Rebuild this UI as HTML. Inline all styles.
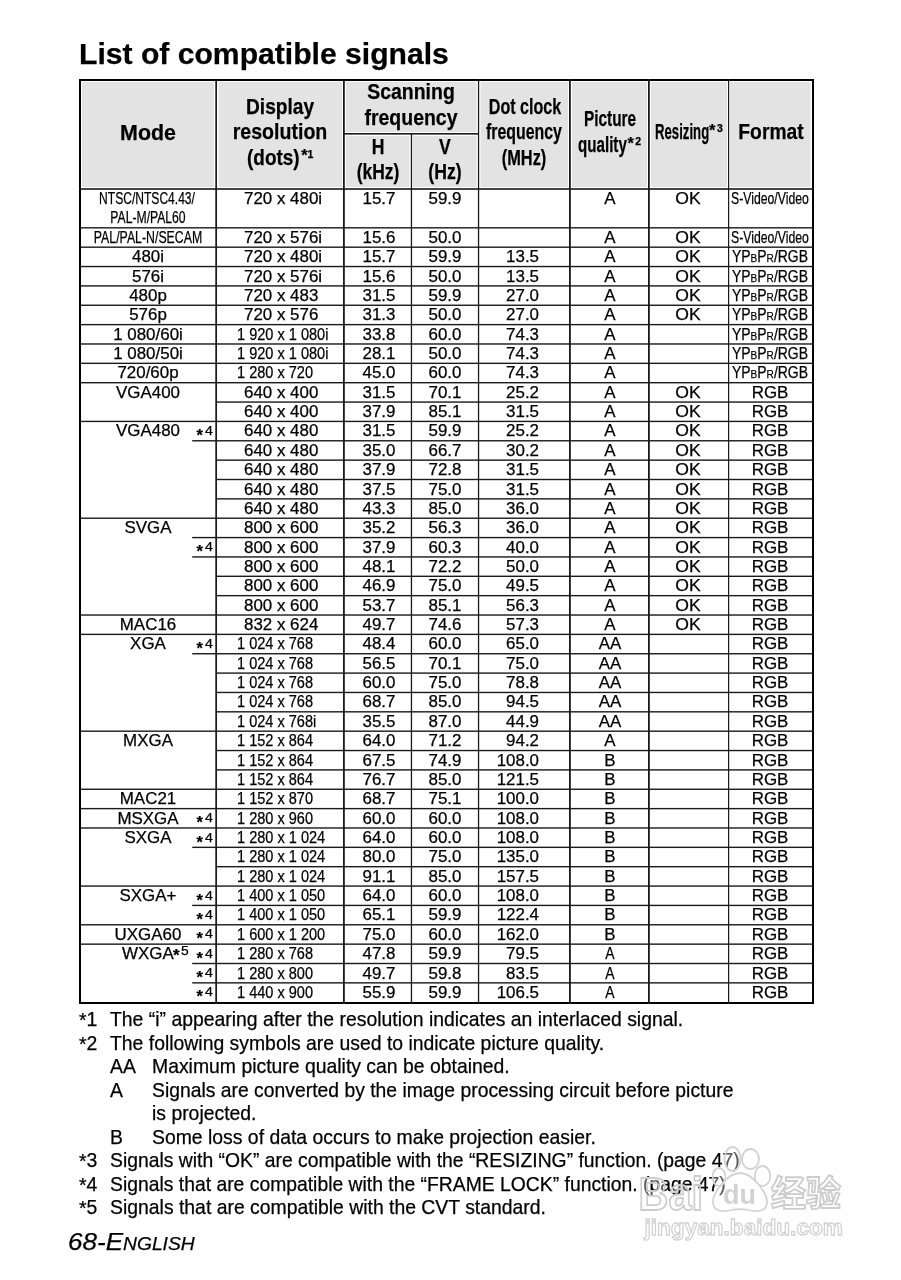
<!DOCTYPE html>
<html><head><meta charset="utf-8"><title>List of compatible signals</title><style>
*{margin:0;padding:0;box-sizing:border-box}
html,body{width:901px;height:1280px;background:#fff;overflow:hidden}
body{position:relative;font-family:"Liberation Sans",Arial,Helvetica,sans-serif;color:#000}
.grid{position:absolute;left:0;top:0}
.t{position:absolute;line-height:0;white-space:nowrap;-webkit-text-stroke:0.25px #000}
.st{display:inline-block;transform:translateY(0.39em);font-weight:700}
.sc{font-size:0.72em}
.fs{display:inline-block;transform:translateY(0.05em)}
.pc{font-size:0.74em}
.wmsvg{position:absolute;left:0;top:0}
</style></head><body>
<svg class="grid" width="901" height="1280" viewBox="0 0 901 1280"><rect x="82.00" y="82.00" width="132.00" height="105.00" fill="#e3e3e3"/><rect x="218.50" y="82.00" width="123.50" height="105.00" fill="#e3e3e3"/><rect x="346.00" y="82.00" width="130.50" height="50.00" fill="#e3e3e3"/><rect x="346.00" y="136.00" width="63.50" height="51.00" fill="#e3e3e3"/><rect x="413.00" y="136.00" width="63.50" height="51.00" fill="#e3e3e3"/><rect x="480.50" y="82.00" width="87.50" height="105.00" fill="#e3e3e3"/><rect x="572.00" y="82.00" width="75.00" height="105.00" fill="#e3e3e3"/><rect x="651.00" y="82.00" width="76.00" height="105.00" fill="#e3e3e3"/><rect x="730.00" y="82.00" width="80.50" height="105.00" fill="#e3e3e3"/><rect x="79.00" y="79.00" width="735.00" height="2.00" fill="#000"/><rect x="79.00" y="1002.00" width="735.00" height="2.00" fill="#000"/><rect x="79.00" y="79.00" width="2.00" height="925.00" fill="#000"/><rect x="812.00" y="79.00" width="2.00" height="925.00" fill="#000"/><rect x="215.30" y="79.00" width="1.70" height="925.00" fill="#1a1a1a"/><rect x="343.00" y="79.00" width="1.80" height="925.00" fill="#1a1a1a"/><rect x="410.80" y="133.00" width="1.30" height="871.00" fill="#1a1a1a"/><rect x="477.90" y="79.00" width="1.30" height="925.00" fill="#1a1a1a"/><rect x="569.00" y="79.00" width="1.80" height="925.00" fill="#1a1a1a"/><rect x="648.00" y="79.00" width="1.80" height="925.00" fill="#1a1a1a"/><rect x="728.00" y="79.00" width="1.20" height="925.00" fill="#1a1a1a"/><rect x="343.00" y="133.00" width="135.00" height="1.60" fill="#1a1a1a"/><rect x="79.00" y="188.20" width="735.00" height="1.60" fill="#1a1a1a"/><rect x="81.00" y="227.12" width="733.00" height="1.40" fill="#1a1a1a"/><rect x="81.00" y="246.48" width="733.00" height="1.40" fill="#1a1a1a"/><rect x="81.00" y="265.84" width="733.00" height="1.40" fill="#1a1a1a"/><rect x="81.00" y="285.20" width="733.00" height="1.40" fill="#1a1a1a"/><rect x="81.00" y="304.56" width="733.00" height="1.40" fill="#1a1a1a"/><rect x="81.00" y="323.92" width="733.00" height="1.40" fill="#1a1a1a"/><rect x="81.00" y="343.28" width="733.00" height="1.40" fill="#1a1a1a"/><rect x="81.00" y="362.64" width="733.00" height="1.40" fill="#1a1a1a"/><rect x="81.00" y="382.00" width="733.00" height="1.40" fill="#1a1a1a"/><rect x="216.00" y="401.36" width="596.00" height="1.40" fill="#1a1a1a"/><rect x="81.00" y="420.72" width="733.00" height="1.40" fill="#1a1a1a"/><rect x="216.00" y="440.08" width="596.00" height="1.40" fill="#1a1a1a"/><rect x="192.20" y="440.08" width="23.80" height="1.40" fill="#1a1a1a"/><rect x="216.00" y="459.44" width="596.00" height="1.40" fill="#1a1a1a"/><rect x="216.00" y="478.80" width="596.00" height="1.40" fill="#1a1a1a"/><rect x="216.00" y="498.16" width="596.00" height="1.40" fill="#1a1a1a"/><rect x="81.00" y="517.52" width="733.00" height="1.40" fill="#1a1a1a"/><rect x="216.00" y="536.88" width="596.00" height="1.40" fill="#1a1a1a"/><rect x="192.20" y="536.88" width="23.80" height="1.40" fill="#1a1a1a"/><rect x="216.00" y="556.24" width="596.00" height="1.40" fill="#1a1a1a"/><rect x="192.20" y="556.24" width="23.80" height="1.40" fill="#1a1a1a"/><rect x="216.00" y="575.60" width="596.00" height="1.40" fill="#1a1a1a"/><rect x="216.00" y="594.96" width="596.00" height="1.40" fill="#1a1a1a"/><rect x="81.00" y="614.32" width="733.00" height="1.40" fill="#1a1a1a"/><rect x="81.00" y="633.68" width="733.00" height="1.40" fill="#1a1a1a"/><rect x="216.00" y="653.04" width="596.00" height="1.40" fill="#1a1a1a"/><rect x="192.20" y="653.04" width="23.80" height="1.40" fill="#1a1a1a"/><rect x="216.00" y="672.40" width="596.00" height="1.40" fill="#1a1a1a"/><rect x="216.00" y="691.76" width="596.00" height="1.40" fill="#1a1a1a"/><rect x="216.00" y="711.12" width="596.00" height="1.40" fill="#1a1a1a"/><rect x="81.00" y="730.48" width="733.00" height="1.40" fill="#1a1a1a"/><rect x="216.00" y="749.84" width="596.00" height="1.40" fill="#1a1a1a"/><rect x="216.00" y="769.20" width="596.00" height="1.40" fill="#1a1a1a"/><rect x="81.00" y="788.56" width="733.00" height="1.40" fill="#1a1a1a"/><rect x="81.00" y="807.92" width="733.00" height="1.40" fill="#1a1a1a"/><rect x="81.00" y="827.28" width="733.00" height="1.40" fill="#1a1a1a"/><rect x="216.00" y="846.64" width="596.00" height="1.40" fill="#1a1a1a"/><rect x="192.20" y="846.64" width="23.80" height="1.40" fill="#1a1a1a"/><rect x="216.00" y="866.00" width="596.00" height="1.40" fill="#1a1a1a"/><rect x="81.00" y="885.36" width="733.00" height="1.40" fill="#1a1a1a"/><rect x="216.00" y="904.72" width="596.00" height="1.40" fill="#1a1a1a"/><rect x="192.20" y="904.72" width="23.80" height="1.40" fill="#1a1a1a"/><rect x="81.00" y="924.08" width="733.00" height="1.40" fill="#1a1a1a"/><rect x="81.00" y="943.44" width="733.00" height="1.40" fill="#1a1a1a"/><rect x="216.00" y="962.80" width="596.00" height="1.40" fill="#1a1a1a"/><rect x="192.20" y="962.80" width="23.80" height="1.40" fill="#1a1a1a"/><rect x="216.00" y="982.16" width="596.00" height="1.40" fill="#1a1a1a"/><rect x="192.20" y="982.16" width="23.80" height="1.40" fill="#1a1a1a"/></svg>
<div class="t" style="top:199.00px;font-size:16.00px;left:-152.70px;width:600px;text-align:center;transform:scaleX(0.7540);transform-origin:center 0;">NTSC/NTSC4.43/</div>
<div class="t" style="top:218.00px;font-size:16.00px;left:-152.00px;width:600px;text-align:center;transform:scaleX(0.7600);transform-origin:center 0;">PAL-M/PAL60</div>
<div class="t" style="top:199.00px;font-size:16.60px;left:243.90px;transform:scaleX(1.0200);transform-origin:left 0;">720 x 480i</div>
<div class="t" style="top:199.00px;font-size:16.60px;left:78.50px;width:600px;text-align:center;transform:scaleX(1.0200);transform-origin:center 0;">15.7</div>
<div class="t" style="top:199.00px;font-size:16.60px;left:145.40px;width:600px;text-align:center;transform:scaleX(1.0200);transform-origin:center 0;">59.9</div>
<div class="t" style="top:199.00px;font-size:16.60px;left:309.70px;width:600px;text-align:center;transform:scaleX(1.0200);transform-origin:center 0;">A</div>
<div class="t" style="top:199.00px;font-size:16.60px;left:387.90px;width:600px;text-align:center;transform:scaleX(1.0600);transform-origin:center 0;">OK</div>
<div class="t" style="top:199.00px;font-size:16.00px;left:731.20px;transform:scaleX(0.7650);transform-origin:left 0;">S-Video/Video</div>
<div class="t" style="top:238.00px;font-size:16.00px;left:-152.00px;width:600px;text-align:center;transform:scaleX(0.7700);transform-origin:center 0;">PAL/PAL-N/SECAM</div>
<div class="t" style="top:238.00px;font-size:16.60px;left:243.90px;transform:scaleX(1.0200);transform-origin:left 0;">720 x 576i</div>
<div class="t" style="top:238.00px;font-size:16.60px;left:78.50px;width:600px;text-align:center;transform:scaleX(1.0200);transform-origin:center 0;">15.6</div>
<div class="t" style="top:238.00px;font-size:16.60px;left:145.40px;width:600px;text-align:center;transform:scaleX(1.0200);transform-origin:center 0;">50.0</div>
<div class="t" style="top:238.00px;font-size:16.60px;left:309.70px;width:600px;text-align:center;transform:scaleX(1.0200);transform-origin:center 0;">A</div>
<div class="t" style="top:238.00px;font-size:16.60px;left:387.90px;width:600px;text-align:center;transform:scaleX(1.0600);transform-origin:center 0;">OK</div>
<div class="t" style="top:238.00px;font-size:16.00px;left:731.20px;transform:scaleX(0.7650);transform-origin:left 0;">S-Video/Video</div>
<div class="t" style="top:257.00px;font-size:16.60px;left:-152.00px;width:600px;text-align:center;transform:scaleX(1.0200);transform-origin:center 0;">480i</div>
<div class="t" style="top:257.00px;font-size:16.60px;left:243.90px;transform:scaleX(1.0200);transform-origin:left 0;">720 x 480i</div>
<div class="t" style="top:257.00px;font-size:16.60px;left:78.50px;width:600px;text-align:center;transform:scaleX(1.0200);transform-origin:center 0;">15.7</div>
<div class="t" style="top:257.00px;font-size:16.60px;left:145.40px;width:600px;text-align:center;transform:scaleX(1.0200);transform-origin:center 0;">59.9</div>
<div class="t" style="top:257.00px;font-size:16.60px;left:-61.40px;width:600px;text-align:right;transform:scaleX(1.0200);transform-origin:right 0;">13.5</div>
<div class="t" style="top:257.00px;font-size:16.60px;left:309.70px;width:600px;text-align:center;transform:scaleX(1.0200);transform-origin:center 0;">A</div>
<div class="t" style="top:257.00px;font-size:16.60px;left:387.90px;width:600px;text-align:center;transform:scaleX(1.0600);transform-origin:center 0;">OK</div>
<div class="t" style="top:257.00px;font-size:16.00px;left:731.80px;transform:scaleX(0.8720);transform-origin:left 0;">YP<span class="sc">B</span>P<span class="sc">R</span>/RGB</div>
<div class="t" style="top:277.00px;font-size:16.60px;left:-152.00px;width:600px;text-align:center;transform:scaleX(1.0200);transform-origin:center 0;">576i</div>
<div class="t" style="top:277.00px;font-size:16.60px;left:243.90px;transform:scaleX(1.0200);transform-origin:left 0;">720 x 576i</div>
<div class="t" style="top:277.00px;font-size:16.60px;left:78.50px;width:600px;text-align:center;transform:scaleX(1.0200);transform-origin:center 0;">15.6</div>
<div class="t" style="top:277.00px;font-size:16.60px;left:145.40px;width:600px;text-align:center;transform:scaleX(1.0200);transform-origin:center 0;">50.0</div>
<div class="t" style="top:277.00px;font-size:16.60px;left:-61.40px;width:600px;text-align:right;transform:scaleX(1.0200);transform-origin:right 0;">13.5</div>
<div class="t" style="top:277.00px;font-size:16.60px;left:309.70px;width:600px;text-align:center;transform:scaleX(1.0200);transform-origin:center 0;">A</div>
<div class="t" style="top:277.00px;font-size:16.60px;left:387.90px;width:600px;text-align:center;transform:scaleX(1.0600);transform-origin:center 0;">OK</div>
<div class="t" style="top:277.00px;font-size:16.00px;left:731.80px;transform:scaleX(0.8720);transform-origin:left 0;">YP<span class="sc">B</span>P<span class="sc">R</span>/RGB</div>
<div class="t" style="top:296.00px;font-size:16.60px;left:-152.00px;width:600px;text-align:center;transform:scaleX(1.0200);transform-origin:center 0;">480p</div>
<div class="t" style="top:296.00px;font-size:16.60px;left:243.90px;transform:scaleX(1.0200);transform-origin:left 0;">720 x 483</div>
<div class="t" style="top:296.00px;font-size:16.60px;left:78.50px;width:600px;text-align:center;transform:scaleX(1.0200);transform-origin:center 0;">31.5</div>
<div class="t" style="top:296.00px;font-size:16.60px;left:145.40px;width:600px;text-align:center;transform:scaleX(1.0200);transform-origin:center 0;">59.9</div>
<div class="t" style="top:296.00px;font-size:16.60px;left:-61.40px;width:600px;text-align:right;transform:scaleX(1.0200);transform-origin:right 0;">27.0</div>
<div class="t" style="top:296.00px;font-size:16.60px;left:309.70px;width:600px;text-align:center;transform:scaleX(1.0200);transform-origin:center 0;">A</div>
<div class="t" style="top:296.00px;font-size:16.60px;left:387.90px;width:600px;text-align:center;transform:scaleX(1.0600);transform-origin:center 0;">OK</div>
<div class="t" style="top:296.00px;font-size:16.00px;left:731.80px;transform:scaleX(0.8720);transform-origin:left 0;">YP<span class="sc">B</span>P<span class="sc">R</span>/RGB</div>
<div class="t" style="top:315.00px;font-size:16.60px;left:-152.00px;width:600px;text-align:center;transform:scaleX(1.0200);transform-origin:center 0;">576p</div>
<div class="t" style="top:315.00px;font-size:16.60px;left:243.90px;transform:scaleX(1.0200);transform-origin:left 0;">720 x 576</div>
<div class="t" style="top:315.00px;font-size:16.60px;left:78.50px;width:600px;text-align:center;transform:scaleX(1.0200);transform-origin:center 0;">31.3</div>
<div class="t" style="top:315.00px;font-size:16.60px;left:145.40px;width:600px;text-align:center;transform:scaleX(1.0200);transform-origin:center 0;">50.0</div>
<div class="t" style="top:315.00px;font-size:16.60px;left:-61.40px;width:600px;text-align:right;transform:scaleX(1.0200);transform-origin:right 0;">27.0</div>
<div class="t" style="top:315.00px;font-size:16.60px;left:309.70px;width:600px;text-align:center;transform:scaleX(1.0200);transform-origin:center 0;">A</div>
<div class="t" style="top:315.00px;font-size:16.60px;left:387.90px;width:600px;text-align:center;transform:scaleX(1.0600);transform-origin:center 0;">OK</div>
<div class="t" style="top:315.00px;font-size:16.00px;left:731.80px;transform:scaleX(0.8720);transform-origin:left 0;">YP<span class="sc">B</span>P<span class="sc">R</span>/RGB</div>
<div class="t" style="top:335.00px;font-size:16.60px;left:-152.00px;width:600px;text-align:center;transform:scaleX(1.0200);transform-origin:center 0;">1 080/60i</div>
<div class="t" style="top:335.00px;font-size:16.80px;left:237.00px;transform:scaleX(0.8670);transform-origin:left 0;">1 920 x 1 080i</div>
<div class="t" style="top:335.00px;font-size:16.60px;left:78.50px;width:600px;text-align:center;transform:scaleX(1.0200);transform-origin:center 0;">33.8</div>
<div class="t" style="top:335.00px;font-size:16.60px;left:145.40px;width:600px;text-align:center;transform:scaleX(1.0200);transform-origin:center 0;">60.0</div>
<div class="t" style="top:335.00px;font-size:16.60px;left:-61.40px;width:600px;text-align:right;transform:scaleX(1.0200);transform-origin:right 0;">74.3</div>
<div class="t" style="top:335.00px;font-size:16.60px;left:309.70px;width:600px;text-align:center;transform:scaleX(1.0200);transform-origin:center 0;">A</div>
<div class="t" style="top:335.00px;font-size:16.00px;left:731.80px;transform:scaleX(0.8720);transform-origin:left 0;">YP<span class="sc">B</span>P<span class="sc">R</span>/RGB</div>
<div class="t" style="top:354.00px;font-size:16.60px;left:-152.00px;width:600px;text-align:center;transform:scaleX(1.0200);transform-origin:center 0;">1 080/50i</div>
<div class="t" style="top:354.00px;font-size:16.80px;left:237.00px;transform:scaleX(0.8670);transform-origin:left 0;">1 920 x 1 080i</div>
<div class="t" style="top:354.00px;font-size:16.60px;left:78.50px;width:600px;text-align:center;transform:scaleX(1.0200);transform-origin:center 0;">28.1</div>
<div class="t" style="top:354.00px;font-size:16.60px;left:145.40px;width:600px;text-align:center;transform:scaleX(1.0200);transform-origin:center 0;">50.0</div>
<div class="t" style="top:354.00px;font-size:16.60px;left:-61.40px;width:600px;text-align:right;transform:scaleX(1.0200);transform-origin:right 0;">74.3</div>
<div class="t" style="top:354.00px;font-size:16.60px;left:309.70px;width:600px;text-align:center;transform:scaleX(1.0200);transform-origin:center 0;">A</div>
<div class="t" style="top:354.00px;font-size:16.00px;left:731.80px;transform:scaleX(0.8720);transform-origin:left 0;">YP<span class="sc">B</span>P<span class="sc">R</span>/RGB</div>
<div class="t" style="top:373.00px;font-size:16.60px;left:-152.00px;width:600px;text-align:center;transform:scaleX(1.0200);transform-origin:center 0;">720/60p</div>
<div class="t" style="top:373.00px;font-size:16.80px;left:237.00px;transform:scaleX(0.8670);transform-origin:left 0;">1 280 x 720</div>
<div class="t" style="top:373.00px;font-size:16.60px;left:78.50px;width:600px;text-align:center;transform:scaleX(1.0200);transform-origin:center 0;">45.0</div>
<div class="t" style="top:373.00px;font-size:16.60px;left:145.40px;width:600px;text-align:center;transform:scaleX(1.0200);transform-origin:center 0;">60.0</div>
<div class="t" style="top:373.00px;font-size:16.60px;left:-61.40px;width:600px;text-align:right;transform:scaleX(1.0200);transform-origin:right 0;">74.3</div>
<div class="t" style="top:373.00px;font-size:16.60px;left:309.70px;width:600px;text-align:center;transform:scaleX(1.0200);transform-origin:center 0;">A</div>
<div class="t" style="top:373.00px;font-size:16.00px;left:731.80px;transform:scaleX(0.8720);transform-origin:left 0;">YP<span class="sc">B</span>P<span class="sc">R</span>/RGB</div>
<div class="t" style="top:393.00px;font-size:16.60px;left:-152.00px;width:600px;text-align:center;transform:scaleX(1.0200);transform-origin:center 0;">VGA400</div>
<div class="t" style="top:393.00px;font-size:16.60px;left:243.90px;transform:scaleX(1.0200);transform-origin:left 0;">640 x 400</div>
<div class="t" style="top:393.00px;font-size:16.60px;left:78.50px;width:600px;text-align:center;transform:scaleX(1.0200);transform-origin:center 0;">31.5</div>
<div class="t" style="top:393.00px;font-size:16.60px;left:145.40px;width:600px;text-align:center;transform:scaleX(1.0200);transform-origin:center 0;">70.1</div>
<div class="t" style="top:393.00px;font-size:16.60px;left:-61.40px;width:600px;text-align:right;transform:scaleX(1.0200);transform-origin:right 0;">25.2</div>
<div class="t" style="top:393.00px;font-size:16.60px;left:309.70px;width:600px;text-align:center;transform:scaleX(1.0200);transform-origin:center 0;">A</div>
<div class="t" style="top:393.00px;font-size:16.60px;left:387.90px;width:600px;text-align:center;transform:scaleX(1.0600);transform-origin:center 0;">OK</div>
<div class="t" style="top:393.00px;font-size:16.60px;left:470.30px;width:600px;text-align:center;transform:scaleX(1.0200);transform-origin:center 0;">RGB</div>
<div class="t" style="top:412.00px;font-size:16.60px;left:243.90px;transform:scaleX(1.0200);transform-origin:left 0;">640 x 400</div>
<div class="t" style="top:412.00px;font-size:16.60px;left:78.50px;width:600px;text-align:center;transform:scaleX(1.0200);transform-origin:center 0;">37.9</div>
<div class="t" style="top:412.00px;font-size:16.60px;left:145.40px;width:600px;text-align:center;transform:scaleX(1.0200);transform-origin:center 0;">85.1</div>
<div class="t" style="top:412.00px;font-size:16.60px;left:-61.40px;width:600px;text-align:right;transform:scaleX(1.0200);transform-origin:right 0;">31.5</div>
<div class="t" style="top:412.00px;font-size:16.60px;left:309.70px;width:600px;text-align:center;transform:scaleX(1.0200);transform-origin:center 0;">A</div>
<div class="t" style="top:412.00px;font-size:16.60px;left:387.90px;width:600px;text-align:center;transform:scaleX(1.0600);transform-origin:center 0;">OK</div>
<div class="t" style="top:412.00px;font-size:16.60px;left:470.30px;width:600px;text-align:center;transform:scaleX(1.0200);transform-origin:center 0;">RGB</div>
<div class="t" style="top:431.00px;font-size:16.60px;left:-152.00px;width:600px;text-align:center;transform:scaleX(1.0200);transform-origin:center 0;">VGA480</div>
<div class="t" style="top:429.00px;font-size:16.50px;left:196.60px;"><span class="st">*</span></div>
<div class="t" style="top:431.00px;font-size:12.00px;left:204.50px;transform:scaleX(1.1800);transform-origin:left 0;">4</div>
<div class="t" style="top:431.00px;font-size:16.60px;left:243.90px;transform:scaleX(1.0200);transform-origin:left 0;">640 x 480</div>
<div class="t" style="top:431.00px;font-size:16.60px;left:78.50px;width:600px;text-align:center;transform:scaleX(1.0200);transform-origin:center 0;">31.5</div>
<div class="t" style="top:431.00px;font-size:16.60px;left:145.40px;width:600px;text-align:center;transform:scaleX(1.0200);transform-origin:center 0;">59.9</div>
<div class="t" style="top:431.00px;font-size:16.60px;left:-61.40px;width:600px;text-align:right;transform:scaleX(1.0200);transform-origin:right 0;">25.2</div>
<div class="t" style="top:431.00px;font-size:16.60px;left:309.70px;width:600px;text-align:center;transform:scaleX(1.0200);transform-origin:center 0;">A</div>
<div class="t" style="top:431.00px;font-size:16.60px;left:387.90px;width:600px;text-align:center;transform:scaleX(1.0600);transform-origin:center 0;">OK</div>
<div class="t" style="top:431.00px;font-size:16.60px;left:470.30px;width:600px;text-align:center;transform:scaleX(1.0200);transform-origin:center 0;">RGB</div>
<div class="t" style="top:451.00px;font-size:16.60px;left:243.90px;transform:scaleX(1.0200);transform-origin:left 0;">640 x 480</div>
<div class="t" style="top:451.00px;font-size:16.60px;left:78.50px;width:600px;text-align:center;transform:scaleX(1.0200);transform-origin:center 0;">35.0</div>
<div class="t" style="top:451.00px;font-size:16.60px;left:145.40px;width:600px;text-align:center;transform:scaleX(1.0200);transform-origin:center 0;">66.7</div>
<div class="t" style="top:451.00px;font-size:16.60px;left:-61.40px;width:600px;text-align:right;transform:scaleX(1.0200);transform-origin:right 0;">30.2</div>
<div class="t" style="top:451.00px;font-size:16.60px;left:309.70px;width:600px;text-align:center;transform:scaleX(1.0200);transform-origin:center 0;">A</div>
<div class="t" style="top:451.00px;font-size:16.60px;left:387.90px;width:600px;text-align:center;transform:scaleX(1.0600);transform-origin:center 0;">OK</div>
<div class="t" style="top:451.00px;font-size:16.60px;left:470.30px;width:600px;text-align:center;transform:scaleX(1.0200);transform-origin:center 0;">RGB</div>
<div class="t" style="top:470.00px;font-size:16.60px;left:243.90px;transform:scaleX(1.0200);transform-origin:left 0;">640 x 480</div>
<div class="t" style="top:470.00px;font-size:16.60px;left:78.50px;width:600px;text-align:center;transform:scaleX(1.0200);transform-origin:center 0;">37.9</div>
<div class="t" style="top:470.00px;font-size:16.60px;left:145.40px;width:600px;text-align:center;transform:scaleX(1.0200);transform-origin:center 0;">72.8</div>
<div class="t" style="top:470.00px;font-size:16.60px;left:-61.40px;width:600px;text-align:right;transform:scaleX(1.0200);transform-origin:right 0;">31.5</div>
<div class="t" style="top:470.00px;font-size:16.60px;left:309.70px;width:600px;text-align:center;transform:scaleX(1.0200);transform-origin:center 0;">A</div>
<div class="t" style="top:470.00px;font-size:16.60px;left:387.90px;width:600px;text-align:center;transform:scaleX(1.0600);transform-origin:center 0;">OK</div>
<div class="t" style="top:470.00px;font-size:16.60px;left:470.30px;width:600px;text-align:center;transform:scaleX(1.0200);transform-origin:center 0;">RGB</div>
<div class="t" style="top:490.00px;font-size:16.60px;left:243.90px;transform:scaleX(1.0200);transform-origin:left 0;">640 x 480</div>
<div class="t" style="top:490.00px;font-size:16.60px;left:78.50px;width:600px;text-align:center;transform:scaleX(1.0200);transform-origin:center 0;">37.5</div>
<div class="t" style="top:490.00px;font-size:16.60px;left:145.40px;width:600px;text-align:center;transform:scaleX(1.0200);transform-origin:center 0;">75.0</div>
<div class="t" style="top:490.00px;font-size:16.60px;left:-61.40px;width:600px;text-align:right;transform:scaleX(1.0200);transform-origin:right 0;">31.5</div>
<div class="t" style="top:490.00px;font-size:16.60px;left:309.70px;width:600px;text-align:center;transform:scaleX(1.0200);transform-origin:center 0;">A</div>
<div class="t" style="top:490.00px;font-size:16.60px;left:387.90px;width:600px;text-align:center;transform:scaleX(1.0600);transform-origin:center 0;">OK</div>
<div class="t" style="top:490.00px;font-size:16.60px;left:470.30px;width:600px;text-align:center;transform:scaleX(1.0200);transform-origin:center 0;">RGB</div>
<div class="t" style="top:509.00px;font-size:16.60px;left:243.90px;transform:scaleX(1.0200);transform-origin:left 0;">640 x 480</div>
<div class="t" style="top:509.00px;font-size:16.60px;left:78.50px;width:600px;text-align:center;transform:scaleX(1.0200);transform-origin:center 0;">43.3</div>
<div class="t" style="top:509.00px;font-size:16.60px;left:145.40px;width:600px;text-align:center;transform:scaleX(1.0200);transform-origin:center 0;">85.0</div>
<div class="t" style="top:509.00px;font-size:16.60px;left:-61.40px;width:600px;text-align:right;transform:scaleX(1.0200);transform-origin:right 0;">36.0</div>
<div class="t" style="top:509.00px;font-size:16.60px;left:309.70px;width:600px;text-align:center;transform:scaleX(1.0200);transform-origin:center 0;">A</div>
<div class="t" style="top:509.00px;font-size:16.60px;left:387.90px;width:600px;text-align:center;transform:scaleX(1.0600);transform-origin:center 0;">OK</div>
<div class="t" style="top:509.00px;font-size:16.60px;left:470.30px;width:600px;text-align:center;transform:scaleX(1.0200);transform-origin:center 0;">RGB</div>
<div class="t" style="top:528.00px;font-size:16.60px;left:-152.00px;width:600px;text-align:center;transform:scaleX(1.0200);transform-origin:center 0;">SVGA</div>
<div class="t" style="top:528.00px;font-size:16.60px;left:243.90px;transform:scaleX(1.0200);transform-origin:left 0;">800 x 600</div>
<div class="t" style="top:528.00px;font-size:16.60px;left:78.50px;width:600px;text-align:center;transform:scaleX(1.0200);transform-origin:center 0;">35.2</div>
<div class="t" style="top:528.00px;font-size:16.60px;left:145.40px;width:600px;text-align:center;transform:scaleX(1.0200);transform-origin:center 0;">56.3</div>
<div class="t" style="top:528.00px;font-size:16.60px;left:-61.40px;width:600px;text-align:right;transform:scaleX(1.0200);transform-origin:right 0;">36.0</div>
<div class="t" style="top:528.00px;font-size:16.60px;left:309.70px;width:600px;text-align:center;transform:scaleX(1.0200);transform-origin:center 0;">A</div>
<div class="t" style="top:528.00px;font-size:16.60px;left:387.90px;width:600px;text-align:center;transform:scaleX(1.0600);transform-origin:center 0;">OK</div>
<div class="t" style="top:528.00px;font-size:16.60px;left:470.30px;width:600px;text-align:center;transform:scaleX(1.0200);transform-origin:center 0;">RGB</div>
<div class="t" style="top:545.00px;font-size:16.50px;left:196.60px;"><span class="st">*</span></div>
<div class="t" style="top:547.00px;font-size:12.00px;left:204.50px;transform:scaleX(1.1800);transform-origin:left 0;">4</div>
<div class="t" style="top:548.00px;font-size:16.60px;left:243.90px;transform:scaleX(1.0200);transform-origin:left 0;">800 x 600</div>
<div class="t" style="top:548.00px;font-size:16.60px;left:78.50px;width:600px;text-align:center;transform:scaleX(1.0200);transform-origin:center 0;">37.9</div>
<div class="t" style="top:548.00px;font-size:16.60px;left:145.40px;width:600px;text-align:center;transform:scaleX(1.0200);transform-origin:center 0;">60.3</div>
<div class="t" style="top:548.00px;font-size:16.60px;left:-61.40px;width:600px;text-align:right;transform:scaleX(1.0200);transform-origin:right 0;">40.0</div>
<div class="t" style="top:548.00px;font-size:16.60px;left:309.70px;width:600px;text-align:center;transform:scaleX(1.0200);transform-origin:center 0;">A</div>
<div class="t" style="top:548.00px;font-size:16.60px;left:387.90px;width:600px;text-align:center;transform:scaleX(1.0600);transform-origin:center 0;">OK</div>
<div class="t" style="top:548.00px;font-size:16.60px;left:470.30px;width:600px;text-align:center;transform:scaleX(1.0200);transform-origin:center 0;">RGB</div>
<div class="t" style="top:567.00px;font-size:16.60px;left:243.90px;transform:scaleX(1.0200);transform-origin:left 0;">800 x 600</div>
<div class="t" style="top:567.00px;font-size:16.60px;left:78.50px;width:600px;text-align:center;transform:scaleX(1.0200);transform-origin:center 0;">48.1</div>
<div class="t" style="top:567.00px;font-size:16.60px;left:145.40px;width:600px;text-align:center;transform:scaleX(1.0200);transform-origin:center 0;">72.2</div>
<div class="t" style="top:567.00px;font-size:16.60px;left:-61.40px;width:600px;text-align:right;transform:scaleX(1.0200);transform-origin:right 0;">50.0</div>
<div class="t" style="top:567.00px;font-size:16.60px;left:309.70px;width:600px;text-align:center;transform:scaleX(1.0200);transform-origin:center 0;">A</div>
<div class="t" style="top:567.00px;font-size:16.60px;left:387.90px;width:600px;text-align:center;transform:scaleX(1.0600);transform-origin:center 0;">OK</div>
<div class="t" style="top:567.00px;font-size:16.60px;left:470.30px;width:600px;text-align:center;transform:scaleX(1.0200);transform-origin:center 0;">RGB</div>
<div class="t" style="top:586.00px;font-size:16.60px;left:243.90px;transform:scaleX(1.0200);transform-origin:left 0;">800 x 600</div>
<div class="t" style="top:586.00px;font-size:16.60px;left:78.50px;width:600px;text-align:center;transform:scaleX(1.0200);transform-origin:center 0;">46.9</div>
<div class="t" style="top:586.00px;font-size:16.60px;left:145.40px;width:600px;text-align:center;transform:scaleX(1.0200);transform-origin:center 0;">75.0</div>
<div class="t" style="top:586.00px;font-size:16.60px;left:-61.40px;width:600px;text-align:right;transform:scaleX(1.0200);transform-origin:right 0;">49.5</div>
<div class="t" style="top:586.00px;font-size:16.60px;left:309.70px;width:600px;text-align:center;transform:scaleX(1.0200);transform-origin:center 0;">A</div>
<div class="t" style="top:586.00px;font-size:16.60px;left:387.90px;width:600px;text-align:center;transform:scaleX(1.0600);transform-origin:center 0;">OK</div>
<div class="t" style="top:586.00px;font-size:16.60px;left:470.30px;width:600px;text-align:center;transform:scaleX(1.0200);transform-origin:center 0;">RGB</div>
<div class="t" style="top:606.00px;font-size:16.60px;left:243.90px;transform:scaleX(1.0200);transform-origin:left 0;">800 x 600</div>
<div class="t" style="top:606.00px;font-size:16.60px;left:78.50px;width:600px;text-align:center;transform:scaleX(1.0200);transform-origin:center 0;">53.7</div>
<div class="t" style="top:606.00px;font-size:16.60px;left:145.40px;width:600px;text-align:center;transform:scaleX(1.0200);transform-origin:center 0;">85.1</div>
<div class="t" style="top:606.00px;font-size:16.60px;left:-61.40px;width:600px;text-align:right;transform:scaleX(1.0200);transform-origin:right 0;">56.3</div>
<div class="t" style="top:606.00px;font-size:16.60px;left:309.70px;width:600px;text-align:center;transform:scaleX(1.0200);transform-origin:center 0;">A</div>
<div class="t" style="top:606.00px;font-size:16.60px;left:387.90px;width:600px;text-align:center;transform:scaleX(1.0600);transform-origin:center 0;">OK</div>
<div class="t" style="top:606.00px;font-size:16.60px;left:470.30px;width:600px;text-align:center;transform:scaleX(1.0200);transform-origin:center 0;">RGB</div>
<div class="t" style="top:625.00px;font-size:16.60px;left:-152.00px;width:600px;text-align:center;transform:scaleX(1.0200);transform-origin:center 0;">MAC16</div>
<div class="t" style="top:625.00px;font-size:16.60px;left:243.90px;transform:scaleX(1.0200);transform-origin:left 0;">832 x 624</div>
<div class="t" style="top:625.00px;font-size:16.60px;left:78.50px;width:600px;text-align:center;transform:scaleX(1.0200);transform-origin:center 0;">49.7</div>
<div class="t" style="top:625.00px;font-size:16.60px;left:145.40px;width:600px;text-align:center;transform:scaleX(1.0200);transform-origin:center 0;">74.6</div>
<div class="t" style="top:625.00px;font-size:16.60px;left:-61.40px;width:600px;text-align:right;transform:scaleX(1.0200);transform-origin:right 0;">57.3</div>
<div class="t" style="top:625.00px;font-size:16.60px;left:309.70px;width:600px;text-align:center;transform:scaleX(1.0200);transform-origin:center 0;">A</div>
<div class="t" style="top:625.00px;font-size:16.60px;left:387.90px;width:600px;text-align:center;transform:scaleX(1.0600);transform-origin:center 0;">OK</div>
<div class="t" style="top:625.00px;font-size:16.60px;left:470.30px;width:600px;text-align:center;transform:scaleX(1.0200);transform-origin:center 0;">RGB</div>
<div class="t" style="top:644.00px;font-size:16.60px;left:-152.00px;width:600px;text-align:center;transform:scaleX(1.0200);transform-origin:center 0;">XGA</div>
<div class="t" style="top:642.00px;font-size:16.50px;left:196.60px;"><span class="st">*</span></div>
<div class="t" style="top:644.00px;font-size:12.00px;left:204.50px;transform:scaleX(1.1800);transform-origin:left 0;">4</div>
<div class="t" style="top:644.00px;font-size:16.80px;left:237.00px;transform:scaleX(0.8670);transform-origin:left 0;">1 024 x 768</div>
<div class="t" style="top:644.00px;font-size:16.60px;left:78.50px;width:600px;text-align:center;transform:scaleX(1.0200);transform-origin:center 0;">48.4</div>
<div class="t" style="top:644.00px;font-size:16.60px;left:145.40px;width:600px;text-align:center;transform:scaleX(1.0200);transform-origin:center 0;">60.0</div>
<div class="t" style="top:644.00px;font-size:16.60px;left:-61.40px;width:600px;text-align:right;transform:scaleX(1.0200);transform-origin:right 0;">65.0</div>
<div class="t" style="top:644.00px;font-size:16.60px;left:309.70px;width:600px;text-align:center;transform:scaleX(1.0200);transform-origin:center 0;">AA</div>
<div class="t" style="top:644.00px;font-size:16.60px;left:470.30px;width:600px;text-align:center;transform:scaleX(1.0200);transform-origin:center 0;">RGB</div>
<div class="t" style="top:664.00px;font-size:16.80px;left:237.00px;transform:scaleX(0.8670);transform-origin:left 0;">1 024 x 768</div>
<div class="t" style="top:664.00px;font-size:16.60px;left:78.50px;width:600px;text-align:center;transform:scaleX(1.0200);transform-origin:center 0;">56.5</div>
<div class="t" style="top:664.00px;font-size:16.60px;left:145.40px;width:600px;text-align:center;transform:scaleX(1.0200);transform-origin:center 0;">70.1</div>
<div class="t" style="top:664.00px;font-size:16.60px;left:-61.40px;width:600px;text-align:right;transform:scaleX(1.0200);transform-origin:right 0;">75.0</div>
<div class="t" style="top:664.00px;font-size:16.60px;left:309.70px;width:600px;text-align:center;transform:scaleX(1.0200);transform-origin:center 0;">AA</div>
<div class="t" style="top:664.00px;font-size:16.60px;left:470.30px;width:600px;text-align:center;transform:scaleX(1.0200);transform-origin:center 0;">RGB</div>
<div class="t" style="top:683.00px;font-size:16.80px;left:237.00px;transform:scaleX(0.8670);transform-origin:left 0;">1 024 x 768</div>
<div class="t" style="top:683.00px;font-size:16.60px;left:78.50px;width:600px;text-align:center;transform:scaleX(1.0200);transform-origin:center 0;">60.0</div>
<div class="t" style="top:683.00px;font-size:16.60px;left:145.40px;width:600px;text-align:center;transform:scaleX(1.0200);transform-origin:center 0;">75.0</div>
<div class="t" style="top:683.00px;font-size:16.60px;left:-61.40px;width:600px;text-align:right;transform:scaleX(1.0200);transform-origin:right 0;">78.8</div>
<div class="t" style="top:683.00px;font-size:16.60px;left:309.70px;width:600px;text-align:center;transform:scaleX(1.0200);transform-origin:center 0;">AA</div>
<div class="t" style="top:683.00px;font-size:16.60px;left:470.30px;width:600px;text-align:center;transform:scaleX(1.0200);transform-origin:center 0;">RGB</div>
<div class="t" style="top:702.00px;font-size:16.80px;left:237.00px;transform:scaleX(0.8670);transform-origin:left 0;">1 024 x 768</div>
<div class="t" style="top:702.00px;font-size:16.60px;left:78.50px;width:600px;text-align:center;transform:scaleX(1.0200);transform-origin:center 0;">68.7</div>
<div class="t" style="top:702.00px;font-size:16.60px;left:145.40px;width:600px;text-align:center;transform:scaleX(1.0200);transform-origin:center 0;">85.0</div>
<div class="t" style="top:702.00px;font-size:16.60px;left:-61.40px;width:600px;text-align:right;transform:scaleX(1.0200);transform-origin:right 0;">94.5</div>
<div class="t" style="top:702.00px;font-size:16.60px;left:309.70px;width:600px;text-align:center;transform:scaleX(1.0200);transform-origin:center 0;">AA</div>
<div class="t" style="top:702.00px;font-size:16.60px;left:470.30px;width:600px;text-align:center;transform:scaleX(1.0200);transform-origin:center 0;">RGB</div>
<div class="t" style="top:722.00px;font-size:16.80px;left:237.00px;transform:scaleX(0.8670);transform-origin:left 0;">1 024 x 768i</div>
<div class="t" style="top:722.00px;font-size:16.60px;left:78.50px;width:600px;text-align:center;transform:scaleX(1.0200);transform-origin:center 0;">35.5</div>
<div class="t" style="top:722.00px;font-size:16.60px;left:145.40px;width:600px;text-align:center;transform:scaleX(1.0200);transform-origin:center 0;">87.0</div>
<div class="t" style="top:722.00px;font-size:16.60px;left:-61.40px;width:600px;text-align:right;transform:scaleX(1.0200);transform-origin:right 0;">44.9</div>
<div class="t" style="top:722.00px;font-size:16.60px;left:309.70px;width:600px;text-align:center;transform:scaleX(1.0200);transform-origin:center 0;">AA</div>
<div class="t" style="top:722.00px;font-size:16.60px;left:470.30px;width:600px;text-align:center;transform:scaleX(1.0200);transform-origin:center 0;">RGB</div>
<div class="t" style="top:741.00px;font-size:16.60px;left:-152.00px;width:600px;text-align:center;transform:scaleX(1.0200);transform-origin:center 0;">MXGA</div>
<div class="t" style="top:741.00px;font-size:16.80px;left:237.00px;transform:scaleX(0.8670);transform-origin:left 0;">1 152 x 864</div>
<div class="t" style="top:741.00px;font-size:16.60px;left:78.50px;width:600px;text-align:center;transform:scaleX(1.0200);transform-origin:center 0;">64.0</div>
<div class="t" style="top:741.00px;font-size:16.60px;left:145.40px;width:600px;text-align:center;transform:scaleX(1.0200);transform-origin:center 0;">71.2</div>
<div class="t" style="top:741.00px;font-size:16.60px;left:-61.40px;width:600px;text-align:right;transform:scaleX(1.0200);transform-origin:right 0;">94.2</div>
<div class="t" style="top:741.00px;font-size:16.60px;left:309.70px;width:600px;text-align:center;transform:scaleX(1.0200);transform-origin:center 0;">A</div>
<div class="t" style="top:741.00px;font-size:16.60px;left:470.30px;width:600px;text-align:center;transform:scaleX(1.0200);transform-origin:center 0;">RGB</div>
<div class="t" style="top:761.00px;font-size:16.80px;left:237.00px;transform:scaleX(0.8670);transform-origin:left 0;">1 152 x 864</div>
<div class="t" style="top:761.00px;font-size:16.60px;left:78.50px;width:600px;text-align:center;transform:scaleX(1.0200);transform-origin:center 0;">67.5</div>
<div class="t" style="top:761.00px;font-size:16.60px;left:145.40px;width:600px;text-align:center;transform:scaleX(1.0200);transform-origin:center 0;">74.9</div>
<div class="t" style="top:761.00px;font-size:16.60px;left:-61.40px;width:600px;text-align:right;transform:scaleX(1.0200);transform-origin:right 0;">108.0</div>
<div class="t" style="top:761.00px;font-size:16.60px;left:309.70px;width:600px;text-align:center;transform:scaleX(1.0200);transform-origin:center 0;">B</div>
<div class="t" style="top:761.00px;font-size:16.60px;left:470.30px;width:600px;text-align:center;transform:scaleX(1.0200);transform-origin:center 0;">RGB</div>
<div class="t" style="top:780.00px;font-size:16.80px;left:237.00px;transform:scaleX(0.8670);transform-origin:left 0;">1 152 x 864</div>
<div class="t" style="top:780.00px;font-size:16.60px;left:78.50px;width:600px;text-align:center;transform:scaleX(1.0200);transform-origin:center 0;">76.7</div>
<div class="t" style="top:780.00px;font-size:16.60px;left:145.40px;width:600px;text-align:center;transform:scaleX(1.0200);transform-origin:center 0;">85.0</div>
<div class="t" style="top:780.00px;font-size:16.60px;left:-61.40px;width:600px;text-align:right;transform:scaleX(1.0200);transform-origin:right 0;">121.5</div>
<div class="t" style="top:780.00px;font-size:16.60px;left:309.70px;width:600px;text-align:center;transform:scaleX(1.0200);transform-origin:center 0;">B</div>
<div class="t" style="top:780.00px;font-size:16.60px;left:470.30px;width:600px;text-align:center;transform:scaleX(1.0200);transform-origin:center 0;">RGB</div>
<div class="t" style="top:799.00px;font-size:16.60px;left:-152.00px;width:600px;text-align:center;transform:scaleX(1.0200);transform-origin:center 0;">MAC21</div>
<div class="t" style="top:799.00px;font-size:16.80px;left:237.00px;transform:scaleX(0.8670);transform-origin:left 0;">1 152 x 870</div>
<div class="t" style="top:799.00px;font-size:16.60px;left:78.50px;width:600px;text-align:center;transform:scaleX(1.0200);transform-origin:center 0;">68.7</div>
<div class="t" style="top:799.00px;font-size:16.60px;left:145.40px;width:600px;text-align:center;transform:scaleX(1.0200);transform-origin:center 0;">75.1</div>
<div class="t" style="top:799.00px;font-size:16.60px;left:-61.40px;width:600px;text-align:right;transform:scaleX(1.0200);transform-origin:right 0;">100.0</div>
<div class="t" style="top:799.00px;font-size:16.60px;left:309.70px;width:600px;text-align:center;transform:scaleX(1.0200);transform-origin:center 0;">B</div>
<div class="t" style="top:799.00px;font-size:16.60px;left:470.30px;width:600px;text-align:center;transform:scaleX(1.0200);transform-origin:center 0;">RGB</div>
<div class="t" style="top:819.00px;font-size:16.60px;left:-152.00px;width:600px;text-align:center;transform:scaleX(1.0200);transform-origin:center 0;">MSXGA</div>
<div class="t" style="top:816.00px;font-size:16.50px;left:196.60px;"><span class="st">*</span></div>
<div class="t" style="top:818.00px;font-size:12.00px;left:204.50px;transform:scaleX(1.1800);transform-origin:left 0;">4</div>
<div class="t" style="top:819.00px;font-size:16.80px;left:237.00px;transform:scaleX(0.8670);transform-origin:left 0;">1 280 x 960</div>
<div class="t" style="top:819.00px;font-size:16.60px;left:78.50px;width:600px;text-align:center;transform:scaleX(1.0200);transform-origin:center 0;">60.0</div>
<div class="t" style="top:819.00px;font-size:16.60px;left:145.40px;width:600px;text-align:center;transform:scaleX(1.0200);transform-origin:center 0;">60.0</div>
<div class="t" style="top:819.00px;font-size:16.60px;left:-61.40px;width:600px;text-align:right;transform:scaleX(1.0200);transform-origin:right 0;">108.0</div>
<div class="t" style="top:819.00px;font-size:16.60px;left:309.70px;width:600px;text-align:center;transform:scaleX(1.0200);transform-origin:center 0;">B</div>
<div class="t" style="top:819.00px;font-size:16.60px;left:470.30px;width:600px;text-align:center;transform:scaleX(1.0200);transform-origin:center 0;">RGB</div>
<div class="t" style="top:838.00px;font-size:16.60px;left:-152.00px;width:600px;text-align:center;transform:scaleX(1.0200);transform-origin:center 0;">SXGA</div>
<div class="t" style="top:836.00px;font-size:16.50px;left:196.60px;"><span class="st">*</span></div>
<div class="t" style="top:838.00px;font-size:12.00px;left:204.50px;transform:scaleX(1.1800);transform-origin:left 0;">4</div>
<div class="t" style="top:838.00px;font-size:16.80px;left:237.00px;transform:scaleX(0.8670);transform-origin:left 0;">1 280 x 1 024</div>
<div class="t" style="top:838.00px;font-size:16.60px;left:78.50px;width:600px;text-align:center;transform:scaleX(1.0200);transform-origin:center 0;">64.0</div>
<div class="t" style="top:838.00px;font-size:16.60px;left:145.40px;width:600px;text-align:center;transform:scaleX(1.0200);transform-origin:center 0;">60.0</div>
<div class="t" style="top:838.00px;font-size:16.60px;left:-61.40px;width:600px;text-align:right;transform:scaleX(1.0200);transform-origin:right 0;">108.0</div>
<div class="t" style="top:838.00px;font-size:16.60px;left:309.70px;width:600px;text-align:center;transform:scaleX(1.0200);transform-origin:center 0;">B</div>
<div class="t" style="top:838.00px;font-size:16.60px;left:470.30px;width:600px;text-align:center;transform:scaleX(1.0200);transform-origin:center 0;">RGB</div>
<div class="t" style="top:857.00px;font-size:16.80px;left:237.00px;transform:scaleX(0.8670);transform-origin:left 0;">1 280 x 1 024</div>
<div class="t" style="top:857.00px;font-size:16.60px;left:78.50px;width:600px;text-align:center;transform:scaleX(1.0200);transform-origin:center 0;">80.0</div>
<div class="t" style="top:857.00px;font-size:16.60px;left:145.40px;width:600px;text-align:center;transform:scaleX(1.0200);transform-origin:center 0;">75.0</div>
<div class="t" style="top:857.00px;font-size:16.60px;left:-61.40px;width:600px;text-align:right;transform:scaleX(1.0200);transform-origin:right 0;">135.0</div>
<div class="t" style="top:857.00px;font-size:16.60px;left:309.70px;width:600px;text-align:center;transform:scaleX(1.0200);transform-origin:center 0;">B</div>
<div class="t" style="top:857.00px;font-size:16.60px;left:470.30px;width:600px;text-align:center;transform:scaleX(1.0200);transform-origin:center 0;">RGB</div>
<div class="t" style="top:877.00px;font-size:16.80px;left:237.00px;transform:scaleX(0.8670);transform-origin:left 0;">1 280 x 1 024</div>
<div class="t" style="top:877.00px;font-size:16.60px;left:78.50px;width:600px;text-align:center;transform:scaleX(1.0200);transform-origin:center 0;">91.1</div>
<div class="t" style="top:877.00px;font-size:16.60px;left:145.40px;width:600px;text-align:center;transform:scaleX(1.0200);transform-origin:center 0;">85.0</div>
<div class="t" style="top:877.00px;font-size:16.60px;left:-61.40px;width:600px;text-align:right;transform:scaleX(1.0200);transform-origin:right 0;">157.5</div>
<div class="t" style="top:877.00px;font-size:16.60px;left:309.70px;width:600px;text-align:center;transform:scaleX(1.0200);transform-origin:center 0;">B</div>
<div class="t" style="top:877.00px;font-size:16.60px;left:470.30px;width:600px;text-align:center;transform:scaleX(1.0200);transform-origin:center 0;">RGB</div>
<div class="t" style="top:896.00px;font-size:16.60px;left:-152.00px;width:600px;text-align:center;transform:scaleX(1.0200);transform-origin:center 0;">SXGA+</div>
<div class="t" style="top:894.00px;font-size:16.50px;left:196.60px;"><span class="st">*</span></div>
<div class="t" style="top:896.00px;font-size:12.00px;left:204.50px;transform:scaleX(1.1800);transform-origin:left 0;">4</div>
<div class="t" style="top:896.00px;font-size:16.80px;left:237.00px;transform:scaleX(0.8670);transform-origin:left 0;">1 400 x 1 050</div>
<div class="t" style="top:896.00px;font-size:16.60px;left:78.50px;width:600px;text-align:center;transform:scaleX(1.0200);transform-origin:center 0;">64.0</div>
<div class="t" style="top:896.00px;font-size:16.60px;left:145.40px;width:600px;text-align:center;transform:scaleX(1.0200);transform-origin:center 0;">60.0</div>
<div class="t" style="top:896.00px;font-size:16.60px;left:-61.40px;width:600px;text-align:right;transform:scaleX(1.0200);transform-origin:right 0;">108.0</div>
<div class="t" style="top:896.00px;font-size:16.60px;left:309.70px;width:600px;text-align:center;transform:scaleX(1.0200);transform-origin:center 0;">B</div>
<div class="t" style="top:896.00px;font-size:16.60px;left:470.30px;width:600px;text-align:center;transform:scaleX(1.0200);transform-origin:center 0;">RGB</div>
<div class="t" style="top:913.00px;font-size:16.50px;left:196.60px;"><span class="st">*</span></div>
<div class="t" style="top:915.00px;font-size:12.00px;left:204.50px;transform:scaleX(1.1800);transform-origin:left 0;">4</div>
<div class="t" style="top:915.00px;font-size:16.80px;left:237.00px;transform:scaleX(0.8670);transform-origin:left 0;">1 400 x 1 050</div>
<div class="t" style="top:915.00px;font-size:16.60px;left:78.50px;width:600px;text-align:center;transform:scaleX(1.0200);transform-origin:center 0;">65.1</div>
<div class="t" style="top:915.00px;font-size:16.60px;left:145.40px;width:600px;text-align:center;transform:scaleX(1.0200);transform-origin:center 0;">59.9</div>
<div class="t" style="top:915.00px;font-size:16.60px;left:-61.40px;width:600px;text-align:right;transform:scaleX(1.0200);transform-origin:right 0;">122.4</div>
<div class="t" style="top:915.00px;font-size:16.60px;left:309.70px;width:600px;text-align:center;transform:scaleX(1.0200);transform-origin:center 0;">B</div>
<div class="t" style="top:915.00px;font-size:16.60px;left:470.30px;width:600px;text-align:center;transform:scaleX(1.0200);transform-origin:center 0;">RGB</div>
<div class="t" style="top:935.00px;font-size:16.60px;left:-152.00px;width:600px;text-align:center;transform:scaleX(1.0200);transform-origin:center 0;">UXGA60</div>
<div class="t" style="top:932.00px;font-size:16.50px;left:196.60px;"><span class="st">*</span></div>
<div class="t" style="top:934.00px;font-size:12.00px;left:204.50px;transform:scaleX(1.1800);transform-origin:left 0;">4</div>
<div class="t" style="top:935.00px;font-size:16.80px;left:237.00px;transform:scaleX(0.8670);transform-origin:left 0;">1 600 x 1 200</div>
<div class="t" style="top:935.00px;font-size:16.60px;left:78.50px;width:600px;text-align:center;transform:scaleX(1.0200);transform-origin:center 0;">75.0</div>
<div class="t" style="top:935.00px;font-size:16.60px;left:145.40px;width:600px;text-align:center;transform:scaleX(1.0200);transform-origin:center 0;">60.0</div>
<div class="t" style="top:935.00px;font-size:16.60px;left:-61.40px;width:600px;text-align:right;transform:scaleX(1.0200);transform-origin:right 0;">162.0</div>
<div class="t" style="top:935.00px;font-size:16.60px;left:309.70px;width:600px;text-align:center;transform:scaleX(1.0200);transform-origin:center 0;">B</div>
<div class="t" style="top:935.00px;font-size:16.60px;left:470.30px;width:600px;text-align:center;transform:scaleX(1.0200);transform-origin:center 0;">RGB</div>
<div class="t" style="top:954.00px;font-size:16.60px;left:121.80px;transform:scaleX(1.0200);transform-origin:left 0;">WXGA</div>
<div class="t" style="top:956.00px;font-size:17.00px;font-weight:700;left:172.95px;">*</div>
<div class="t" style="top:951.00px;font-size:12.00px;left:180.90px;transform:scaleX(1.1500);transform-origin:left 0;">5</div>
<div class="t" style="top:952.00px;font-size:16.50px;left:196.60px;"><span class="st">*</span></div>
<div class="t" style="top:954.00px;font-size:12.00px;left:204.50px;transform:scaleX(1.1800);transform-origin:left 0;">4</div>
<div class="t" style="top:954.00px;font-size:16.80px;left:237.00px;transform:scaleX(0.8670);transform-origin:left 0;">1 280 x 768</div>
<div class="t" style="top:954.00px;font-size:16.60px;left:78.50px;width:600px;text-align:center;transform:scaleX(1.0200);transform-origin:center 0;">47.8</div>
<div class="t" style="top:954.00px;font-size:16.60px;left:145.40px;width:600px;text-align:center;transform:scaleX(1.0200);transform-origin:center 0;">59.9</div>
<div class="t" style="top:954.00px;font-size:16.60px;left:-61.40px;width:600px;text-align:right;transform:scaleX(1.0200);transform-origin:right 0;">79.5</div>
<div class="t" style="top:954.00px;font-size:16.60px;left:309.70px;width:600px;text-align:center;transform:scaleX(0.8400);transform-origin:center 0;">A</div>
<div class="t" style="top:954.00px;font-size:16.60px;left:470.30px;width:600px;text-align:center;transform:scaleX(1.0200);transform-origin:center 0;">RGB</div>
<div class="t" style="top:971.00px;font-size:16.50px;left:196.60px;"><span class="st">*</span></div>
<div class="t" style="top:973.00px;font-size:12.00px;left:204.50px;transform:scaleX(1.1800);transform-origin:left 0;">4</div>
<div class="t" style="top:974.00px;font-size:16.80px;left:237.00px;transform:scaleX(0.8670);transform-origin:left 0;">1 280 x 800</div>
<div class="t" style="top:974.00px;font-size:16.60px;left:78.50px;width:600px;text-align:center;transform:scaleX(1.0200);transform-origin:center 0;">49.7</div>
<div class="t" style="top:974.00px;font-size:16.60px;left:145.40px;width:600px;text-align:center;transform:scaleX(1.0200);transform-origin:center 0;">59.8</div>
<div class="t" style="top:974.00px;font-size:16.60px;left:-61.40px;width:600px;text-align:right;transform:scaleX(1.0200);transform-origin:right 0;">83.5</div>
<div class="t" style="top:974.00px;font-size:16.60px;left:309.70px;width:600px;text-align:center;transform:scaleX(0.8400);transform-origin:center 0;">A</div>
<div class="t" style="top:974.00px;font-size:16.60px;left:470.30px;width:600px;text-align:center;transform:scaleX(1.0200);transform-origin:center 0;">RGB</div>
<div class="t" style="top:990.00px;font-size:16.50px;left:196.60px;"><span class="st">*</span></div>
<div class="t" style="top:992.00px;font-size:12.00px;left:204.50px;transform:scaleX(1.1800);transform-origin:left 0;">4</div>
<div class="t" style="top:993.00px;font-size:16.80px;left:237.00px;transform:scaleX(0.8670);transform-origin:left 0;">1 440 x 900</div>
<div class="t" style="top:993.00px;font-size:16.60px;left:78.50px;width:600px;text-align:center;transform:scaleX(1.0200);transform-origin:center 0;">55.9</div>
<div class="t" style="top:993.00px;font-size:16.60px;left:145.40px;width:600px;text-align:center;transform:scaleX(1.0200);transform-origin:center 0;">59.9</div>
<div class="t" style="top:993.00px;font-size:16.60px;left:-61.40px;width:600px;text-align:right;transform:scaleX(1.0200);transform-origin:right 0;">106.5</div>
<div class="t" style="top:993.00px;font-size:16.60px;left:309.70px;width:600px;text-align:center;transform:scaleX(0.8400);transform-origin:center 0;">A</div>
<div class="t" style="top:993.00px;font-size:16.60px;left:470.30px;width:600px;text-align:center;transform:scaleX(1.0200);transform-origin:center 0;">RGB</div>
<div class="t" style="top:133.00px;font-size:22.40px;font-weight:700;left:-151.70px;width:600px;text-align:center;transform:scaleX(0.9554);transform-origin:center 0;">Mode</div>
<div class="t" style="top:107.00px;font-size:22.60px;font-weight:700;left:245.60px;transform:scaleX(0.8481);transform-origin:left 0;">Display</div>
<div class="t" style="top:132.00px;font-size:22.60px;font-weight:700;left:-19.70px;width:600px;text-align:center;transform:scaleX(0.8663);transform-origin:center 0;">resolution</div>
<div class="t" style="top:158.00px;font-size:22.60px;font-weight:700;left:246.80px;transform:scaleX(0.8390);transform-origin:left 0;">(dots)</div>
<div class="t" style="top:155.00px;font-size:16.50px;font-weight:700;left:301.25px;">*</div>
<div class="t" style="top:154.00px;font-size:10.50px;font-weight:700;left:307.50px;">1</div>
<div class="t" style="top:92.00px;font-size:22.60px;font-weight:700;left:111.30px;width:600px;text-align:center;transform:scaleX(0.8617);transform-origin:center 0;">Scanning</div>
<div class="t" style="top:118.00px;font-size:22.60px;font-weight:700;left:111.30px;width:600px;text-align:center;transform:scaleX(0.8617);transform-origin:center 0;">frequency</div>
<div class="t" style="top:147.00px;font-size:22.60px;font-weight:700;left:77.80px;width:600px;text-align:center;transform:scaleX(0.7801);transform-origin:center 0;">H</div>
<div class="t" style="top:172.00px;font-size:22.60px;font-weight:700;left:77.80px;width:600px;text-align:center;transform:scaleX(0.7710);transform-origin:center 0;">(kHz)</div>
<div class="t" style="top:147.00px;font-size:22.60px;font-weight:700;left:144.90px;width:600px;text-align:center;transform:scaleX(0.7801);transform-origin:center 0;">V</div>
<div class="t" style="top:172.00px;font-size:22.60px;font-weight:700;left:144.90px;width:600px;text-align:center;transform:scaleX(0.7801);transform-origin:center 0;">(Hz)</div>
<div class="t" style="top:107.00px;font-size:22.60px;font-weight:700;left:224.50px;width:600px;text-align:center;transform:scaleX(0.7121);transform-origin:center 0;">Dot clock</div>
<div class="t" style="top:132.00px;font-size:22.60px;font-weight:700;left:224.00px;width:600px;text-align:center;transform:scaleX(0.7030);transform-origin:center 0;">frequency</div>
<div class="t" style="top:158.00px;font-size:22.60px;font-weight:700;left:224.40px;width:600px;text-align:center;transform:scaleX(0.7257);transform-origin:center 0;">(MHz)</div>
<div class="t" style="top:119.00px;font-size:22.60px;font-weight:700;left:309.70px;width:600px;text-align:center;transform:scaleX(0.6803);transform-origin:center 0;">Picture</div>
<div class="t" style="top:145.00px;font-size:22.60px;font-weight:700;left:577.90px;transform:scaleX(0.6703);transform-origin:left 0;">quality</div>
<div class="t" style="top:143.00px;font-size:16.50px;font-weight:700;left:627.50px;">*</div>
<div class="t" style="top:141.00px;font-size:10.50px;font-weight:700;left:635.30px;">2</div>
<div class="t" style="top:132.00px;font-size:22.60px;font-weight:700;left:654.80px;transform:scaleX(0.5833);transform-origin:left 0;">Resizing</div>
<div class="t" style="top:130.00px;font-size:16.50px;font-weight:700;left:709.00px;">*</div>
<div class="t" style="top:128.00px;font-size:10.50px;font-weight:700;left:717.00px;">3</div>
<div class="t" style="top:132.00px;font-size:22.40px;font-weight:700;left:471.30px;width:600px;text-align:center;transform:scaleX(0.8606);transform-origin:center 0;">Format</div>
<div class="t" style="top:53.00px;font-size:30.40px;font-weight:700;left:78.90px;transform:scaleX(0.9910);transform-origin:left 0;">List of compatible signals</div>
<div class="t" style="top:1019.00px;font-size:20.30px;left:79.20px;transform:scaleX(0.9557);transform-origin:left 0;"><span class="fs">*</span>1</div>
<div class="t" style="top:1019.00px;font-size:20.30px;left:109.60px;transform:scaleX(0.9557);transform-origin:left 0;">The “i” appearing after the resolution indicates an interlaced signal.</div>
<div class="t" style="top:1043.00px;font-size:20.30px;left:79.20px;transform:scaleX(0.9557);transform-origin:left 0;"><span class="fs">*</span>2</div>
<div class="t" style="top:1043.00px;font-size:20.30px;left:109.60px;transform:scaleX(0.9557);transform-origin:left 0;">The following symbols are used to indicate picture quality.</div>
<div class="t" style="top:1066.00px;font-size:20.30px;left:109.60px;transform:scaleX(0.9557);transform-origin:left 0;">AA</div>
<div class="t" style="top:1066.00px;font-size:20.30px;left:152.40px;transform:scaleX(0.9557);transform-origin:left 0;">Maximum picture quality can be obtained.</div>
<div class="t" style="top:1090.00px;font-size:20.30px;left:109.60px;transform:scaleX(0.9557);transform-origin:left 0;">A</div>
<div class="t" style="top:1090.00px;font-size:20.30px;left:152.40px;transform:scaleX(0.9533);transform-origin:left 0;">Signals are converted by the image processing circuit before picture</div>
<div class="t" style="top:1113.00px;font-size:20.30px;left:152.40px;transform:scaleX(0.9557);transform-origin:left 0;">is projected.</div>
<div class="t" style="top:1137.00px;font-size:20.30px;left:109.60px;transform:scaleX(0.9557);transform-origin:left 0;">B</div>
<div class="t" style="top:1137.00px;font-size:20.30px;left:152.40px;transform:scaleX(0.9557);transform-origin:left 0;">Some loss of data occurs to make projection easier.</div>
<div class="t" style="top:1160.00px;font-size:20.30px;left:79.20px;transform:scaleX(0.9557);transform-origin:left 0;"><span class="fs">*</span>3</div>
<div class="t" style="top:1160.00px;font-size:20.30px;left:109.60px;transform:scaleX(0.9533);transform-origin:left 0;">Signals with “OK” are compatible with the “RESIZING” function. (page 47)</div>
<div class="t" style="top:1184.00px;font-size:20.30px;left:79.20px;transform:scaleX(0.9557);transform-origin:left 0;"><span class="fs">*</span>4</div>
<div class="t" style="top:1184.00px;font-size:20.30px;left:109.60px;transform:scaleX(0.9533);transform-origin:left 0;">Signals that are compatible with the “FRAME LOCK” function. (page 47)</div>
<div class="t" style="top:1207.00px;font-size:20.30px;left:79.20px;transform:scaleX(0.9557);transform-origin:left 0;"><span class="fs">*</span>5</div>
<div class="t" style="top:1207.00px;font-size:20.30px;left:109.60px;transform:scaleX(0.9557);transform-origin:left 0;">Signals that are compatible with the CVT standard.</div>
<div class="t" style="top:1242.00px;font-size:24.80px;font-style:italic;left:68.00px;transform:scaleX(1.0500);transform-origin:left 0;">68-E<span class="pc">NGLISH</span></div>
<svg class="wmsvg" width="901" height="1280" viewBox="0 0 901 1280"><g fill="#fff" fill-opacity="0.35" stroke="#d3d3d3" stroke-width="1.8"><ellipse cx="719" cy="1177" rx="6.5" ry="9"/><ellipse cx="732.5" cy="1159" rx="8" ry="12"/><ellipse cx="750.5" cy="1159" rx="8.5" ry="10"/><ellipse cx="762.5" cy="1176" rx="7.8" ry="10"/><path d="M740 1173 C752 1173 767 1192 767 1202 C767 1212 756 1212 748 1210 C744 1209 736 1209 732 1210 C724 1212 713 1212 713 1202 C713 1192 728 1173 740 1173 Z"/></g><text x="723" y="1204" font-family="Liberation Sans,sans-serif" font-size="27" font-weight="700" fill="#d2d2d2">du</text><g fill="#fff" fill-opacity="0.35" stroke="#cdcdcd" stroke-width="1.8" font-weight="700"><text transform="translate(638.6 1209.5) scale(0.9 1)" font-family="Liberation Sans,sans-serif" font-size="46">Bai</text><text x="771" y="1206" font-family="Liberation Sans, Noto Sans CJK SC, sans-serif" font-size="35">经验</text></g><text x="644.5" y="1235" font-family="Liberation Sans,sans-serif" font-size="22.6" font-weight="700" fill="#fff" fill-opacity="0.35" stroke="#d3d3d3" stroke-width="1.3">jingyan.baidu.com</text></svg>
</body></html>
